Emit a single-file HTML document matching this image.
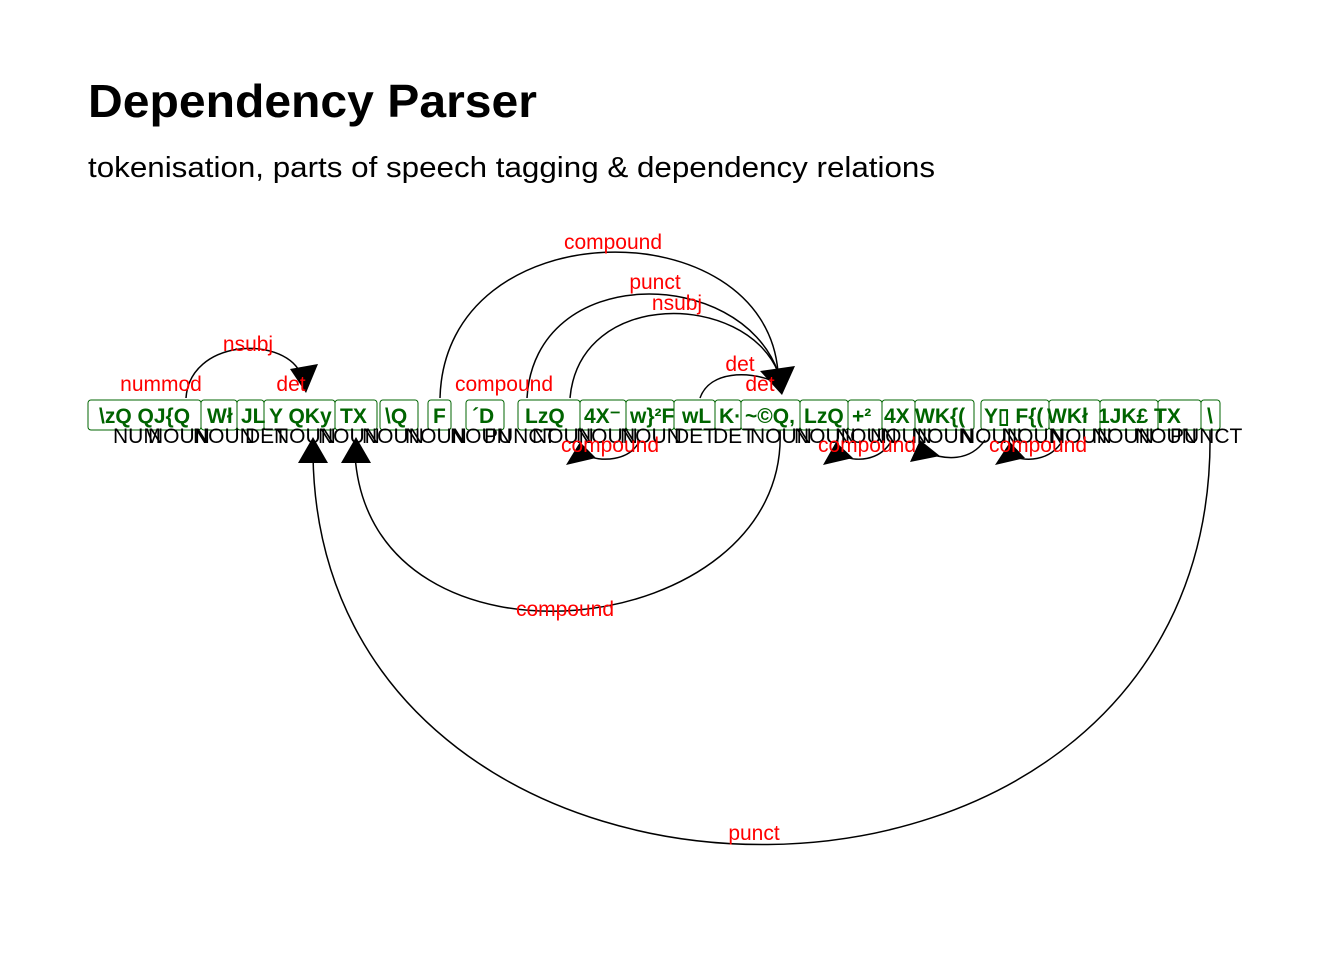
<!DOCTYPE html>
<html><head><meta charset="utf-8"><style>
html,body{margin:0;padding:0;background:#fff;}
svg{display:block;}
</style></head><body>
<svg width="1344" height="960" xmlns="http://www.w3.org/2000/svg" font-family="Liberation Sans, Arial, sans-serif">
<rect width="1344" height="960" fill="#fff"/>
<text x="88" y="117" font-size="46" font-weight="bold" textLength="449" lengthAdjust="spacingAndGlyphs">Dependency Parser</text>
<text x="88" y="177" font-size="29" textLength="847" lengthAdjust="spacingAndGlyphs">tokenisation, parts of speech tagging &amp; dependency relations</text>

<g fill="none" stroke="#000" stroke-width="1.5">
<path d="M186 398 C 190 340, 280 335, 300 372"/>
<path d="M440 398 C 445 208, 765 208, 778 372"/>
<path d="M527 398 C 535 262, 740 266, 778 372"/>
<path d="M570 398 C 580 288, 745 292, 778 372"/>
<path d="M700 398 C 710 370, 750 372, 770 380"/>
<path d="M780 430 C 790 642, 370 690, 355 455"/>
<path d="M1210 430 C 1220 982, 320 975, 313 455"/>
<path d="M640 440 C 630 462, 600 462, 585 455"/>
<path d="M892 440 C 880 462, 855 462, 840 455"/>
<path d="M985 440 C 970 462, 945 460, 925 452"/>
<path d="M1063 440 C 1050 462, 1025 462, 1010 455"/>
</g>

<g fill="#000">
<polygon points="290,369 318,364 306,393"/>
<polygon points="760,371 795,366 782,395"/>
<polygon points="313,437 298,463 328,463"/>
<polygon points="356,437 341,463 371,463"/>
<polygon points="566,465 596,458 580,442"/>
<polygon points="823,465 853,458 836,442"/>
<polygon points="910,462 940,456 920,440"/>
<polygon points="995,465 1025,458 1010,442"/>
</g>

<g fill="none" stroke="#006400" stroke-width="1">
<rect x="88" y="400" width="113" height="30" rx="3"/>
<rect x="201" y="400" width="36" height="30" rx="3"/>
<rect x="237" y="400" width="27" height="30" rx="3"/>
<rect x="264" y="400" width="71" height="30" rx="3"/>
<rect x="335" y="400" width="42" height="30" rx="3"/>
<rect x="380" y="400" width="38" height="30" rx="3"/>
<rect x="428" y="400" width="23" height="30" rx="3"/>
<rect x="466" y="400" width="38" height="30" rx="3"/>
<rect x="518" y="400" width="62" height="30" rx="3"/>
<rect x="580" y="400" width="46" height="30" rx="3"/>
<rect x="626" y="400" width="48" height="30" rx="3"/>
<rect x="674" y="400" width="41" height="30" rx="3"/>
<rect x="715" y="400" width="26" height="30" rx="3"/>
<rect x="741" y="400" width="59" height="30" rx="3"/>
<rect x="800" y="400" width="48" height="30" rx="3"/>
<rect x="848" y="400" width="34" height="30" rx="3"/>
<rect x="882" y="400" width="33" height="30" rx="3"/>
<rect x="915" y="400" width="59" height="30" rx="3"/>
<rect x="981" y="400" width="68" height="30" rx="3"/>
<rect x="1049" y="400" width="51" height="30" rx="3"/>
<rect x="1100" y="400" width="58" height="30" rx="3"/>
<rect x="1158" y="400" width="43" height="30" rx="3"/>
<rect x="1201" y="400" width="19" height="30" rx="3"/>
</g>
<g fill="#006400" font-weight="bold" font-size="21">
<text x="99" y="423">\zQ QJ{Q</text>
<text x="207" y="423">Wł</text>
<text x="241" y="423">JL</text>
<text x="269" y="423">Y QKy</text>
<text x="340" y="423">TX</text>
<text x="385" y="423">\Q</text>
<text x="433" y="423">F</text>
<text x="472" y="423">´D</text>
<text x="525" y="423">LzQ</text>
<text x="584" y="423">4X⁻</text>
<text x="630" y="423">w}²F</text>
<text x="682" y="423">wL</text>
<text x="719" y="423">K·</text>
<text x="745" y="423">~©Q,</text>
<text x="804" y="423">LzQ</text>
<text x="852" y="423">+²</text>
<text x="884" y="423">4X</text>
<text x="915" y="423">WK{(</text>
<text x="984" y="423">Y▯ F{(</text>
<text x="1047" y="423">WKł</text>
<text x="1098" y="423">1JK£</text>
<text x="1154" y="423">TX</text>
<text x="1207" y="423">\</text>
</g>
<g fill="#000" font-size="21">
<text x="113" y="443">NUM</text>
<text x="148" y="443">NOUN</text>
<text x="193" y="443">NOUN</text>
<text x="245" y="443">DET</text>
<text x="274" y="443">NOUN</text>
<text x="318" y="443">NOUN</text>
<text x="362" y="443">NOUN</text>
<text x="405" y="443">NOUN</text>
<text x="450" y="443">NOUN</text>
<text x="484" y="443">PUNCT</text>
<text x="532" y="443">NOUN</text>
<text x="576" y="443">NOUN</text>
<text x="620" y="443">NOUN</text>
<text x="674" y="443">DET</text>
<text x="713" y="443">DET</text>
<text x="750" y="443">NOUN</text>
<text x="794" y="443">NOUN</text>
<text x="835" y="443">NOUN</text>
<text x="870" y="443">NOUN</text>
<text x="912" y="443">NOUN</text>
<text x="960" y="443">NOUN</text>
<text x="1002" y="443">NOUN</text>
<text x="1050" y="443">NOUN</text>
<text x="1092" y="443">NOUN</text>
<text x="1135" y="443">NOUN</text>
<text x="1170" y="443">PUNCT</text>
</g>

<g fill="#f00" font-size="21" text-anchor="middle">
<text x="161" y="391">nummod</text>
<text x="248" y="351">nsubj</text>
<text x="291" y="391">det</text>
<text x="613" y="249">compound</text>
<text x="655" y="289">punct</text>
<text x="677" y="310">nsubj</text>
<text x="504" y="391">compound</text>
<text x="740" y="371">det</text>
<text x="760" y="391">det</text>
<text x="610" y="452">compound</text>
<text x="867" y="452">compound</text>
<text x="1038" y="452">compound</text>
<text x="565" y="616">compound</text>
<text x="754" y="840">punct</text>
</g>
</svg>
</body></html>
